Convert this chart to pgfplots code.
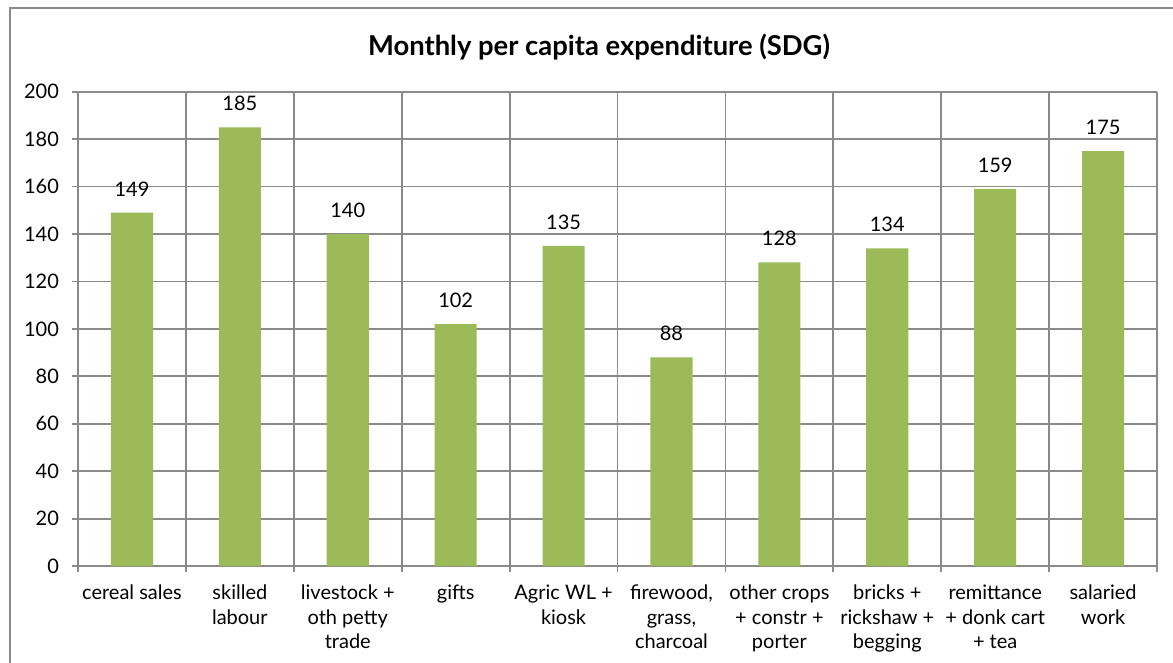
\documentclass[border=0pt]{standalone}
\usepackage{fontspec}
\setmainfont{Lato}
\usepackage{pgfplots}
\pgfplotsset{compat=1.18}
\definecolor{bargreen}{HTML}{9BBB59}
\definecolor{gridgray}{HTML}{8A8A8A}
\begin{document}
\begin{tikzpicture}
\begin{axis}[
  scale only axis,
  width=539.5pt, height=237.2pt,
  ymin=0, ymax=200, ytick={0,20,...,200},
  xmin=-0.5, xmax=9.5,
  xtick={0,...,9},
  xticklabels={{cereal sales}, {skilled\\labour}, {livestock +\\oth petty\\trade}, {gifts}, {Agric WL +\\kiosk}, {firewood,\\grass,\\charcoal}, {other crops\\+ constr +\\porter}, {bricks +\\rickshaw +\\begging}, {remittance\\+ donk cart\\+ tea}, {salaried\\work}},
  minor xtick={-0.5,0.5,...,9.5},
  major x tick style={draw=none},
  xminorgrids, ymajorgrids,
  grid style={gridgray, line width=0.9pt},
  minor grid style={gridgray, line width=0.9pt},
  axis line style={gridgray, line width=0.9pt},
  tick style={gridgray, line width=0.9pt},
  tick align=outside,
  major tick length=3pt, minor tick length=3pt,
  axis x line*=bottom, axis y line*=left,
  tick label style={font=\fontsize{10}{12.25}\selectfont, text=black},
  xticklabel style={align=center, anchor=north, yshift=-3pt},
  yticklabel style={xshift=-3pt},
  /pgf/number format/assume math mode=true,
  ybar, bar width=0.39,
  nodes near coords,
  every node near coord/.append style={font=\fontsize{10}{12}\selectfont, text=black, anchor=south, inner sep=0pt, yshift=8pt},
  clip=false,
]
\addplot[fill=bargreen, draw=none] coordinates {
  (0,149) (1,185) (2,140) (3,102) (4,135) (5,88) (6,128) (7,134) (8,159) (9,175)
};
\node[font=\bfseries\fontsize{13.7}{16}\selectfont, anchor=center] at (rel axis cs:0.4829,1.0943) {Monthly per capita expenditure (SDG)};
\draw[gridgray, line width=1pt] (rel axis cs:-0.0630,-0.25) -- (rel axis cs:-0.0630,1.1765) -- (rel axis cs:1.05,1.1765);
\coordinate (bbll) at (rel axis cs:-0.0723,-0.2024);
\coordinate (bbur) at (rel axis cs:1.0148,1.1933);
\end{axis}
\pgfresetboundingbox
\path[use as bounding box] (bbll) rectangle (bbur);
\end{tikzpicture}
\end{document}
